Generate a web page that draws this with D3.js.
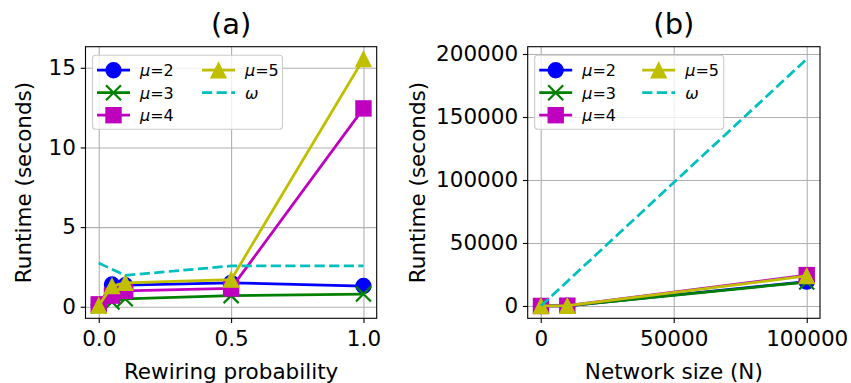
<!DOCTYPE html>
<html>
<head>
<meta charset="utf-8">
<script src="https://cdn.jsdelivr.net/npm/d3@7"></script>
<style>
  body { margin: 0; background: #fff; }
  text { font-family: "DejaVu Sans", sans-serif; fill: #000; }
  .grid line { stroke: #b0b0b0; stroke-width: 1.1; }
  .grid path { display: none; }
</style>
</head>
<body>
<svg id="chart" width="851" height="383"></svg>
<script>
// panel (a): rewiring probability
var rewiring = [0, 0.05, 0.1, 0.5, 1.0];
var mu2A = [0.1, 1.4, 1.35, 1.5, 1.3];
var mu3A = [0.05, 0.3, 0.5, 0.7, 0.8];
var mu4A = [0.15, 0.7, 1.0, 1.15, 12.45];
var mu5A = [0.07, 1.3, 1.5, 1.7, 15.55];
var omegaA = [2.75, 2.35, 1.97, 2.56, 2.56];

// panel (b): network size
var netSize = [100, 10000, 100000];
var mu2B = [5, 150, 19300];
var mu3B = [5, 140, 19000];
var mu4B = [8, 200, 24500];
var mu5B = [8, 210, 23800];
var omegaB = [100, 19500, 196000];

var ticksAX = [0, 0.5, 1.0];
var ticksAY = [0, 5, 10, 15];
var ticksBX = [0, 50000, 100000];
var ticksBY = [0, 50000, 100000, 150000, 200000];

var seriesNames = ['μ=2', 'μ=3', 'μ=4', 'μ=5', 'ω'];
var seriesStyle = [
    {color: '#0000ff', marker: 'circle'},
    {color: '#008000', marker: 'x'},
    {color: '#bf00bf', marker: 'square'},
    {color: '#bfbf00', marker: 'triangle'},
    {color: '#00bfbf', marker: null, dash: '10.2,4.4'}
];

var svg = d3.select('#chart');
var TOP = 46.7, BOTTOM = 318.3;
var MS = 15;
var FONT = 21.5;

function pad(ext) {
    var r = ext[1] - ext[0];
    return [ext[0] - 0.05 * r, ext[1] + 0.05 * r];
}

function drawMarker(g, type, cx, cy, color) {
    var h = MS / 2;
    if (type === 'circle') {
        g.append('circle').attr('cx', cx).attr('cy', cy).attr('r', h)
            .attr('fill', color).attr('stroke', color).attr('stroke-width', 1.4);
    } else if (type === 'square') {
        g.append('rect').attr('x', cx - h).attr('y', cy - h).attr('width', MS).attr('height', MS)
            .attr('fill', color).attr('stroke', color).attr('stroke-width', 1.4);
    } else if (type === 'triangle') {
        g.append('path')
            .attr('d', 'M' + cx + ',' + (cy - h) + 'L' + (cx - h) + ',' + (cy + h) + 'L' + (cx + h) + ',' + (cy + h) + 'Z')
            .attr('fill', color).attr('stroke', color).attr('stroke-width', 1.4).attr('stroke-linejoin', 'miter');
    } else if (type === 'x') {
        g.append('path')
            .attr('d', 'M' + (cx - h) + ',' + (cy - h) + 'L' + (cx + h) + ',' + (cy + h) +
                'M' + (cx - h) + ',' + (cy + h) + 'L' + (cx + h) + ',' + (cy - h))
            .attr('stroke', color).attr('stroke-width', 2.2).attr('fill', 'none');
    }
}

function legendLabel(t, name) {
    // math-style: greek letter italic, rest upright
    t.append('tspan').attr('font-style', 'italic').text(name.charAt(0));
    t.append('tspan').text(name.slice(1));
}

function drawPanel(opt) {
    var x = d3.scaleLinear().domain(pad(d3.extent(opt.xs))).range([opt.left, opt.right]);
    var allY = d3.merge(opt.series);
    var y = d3.scaleLinear().domain(pad([d3.min(allY), d3.max(allY)])).range([BOTTOM, TOP]);
    var g = svg.append('g');

    // grid
    g.append('g').attr('class', 'grid').attr('transform', 'translate(0,' + BOTTOM + ')')
        .call(d3.axisBottom(x).tickValues(opt.ticksX).tickSize(-(BOTTOM - TOP)).tickFormat(''));
    g.append('g').attr('class', 'grid').attr('transform', 'translate(' + opt.left + ',0)')
        .call(d3.axisLeft(y).tickValues(opt.ticksY).tickSize(-(opt.right - opt.left)).tickFormat(''));

    // lines + markers
    var clip = 'clip' + opt.id;
    g.append('clipPath').attr('id', clip).append('rect')
        .attr('x', opt.left).attr('y', TOP).attr('width', opt.right - opt.left).attr('height', BOTTOM - TOP);
    var plot = g.append('g').attr('clip-path', 'url(#' + clip + ')');
    opt.series.forEach(function(vals, i) {
        var st = seriesStyle[i];
        var pts = opt.xs.map(function(xv, j) { return [x(xv), y(vals[j])]; });
        plot.append('path').attr('d', d3.line()(pts))
            .attr('fill', 'none').attr('stroke', st.color).attr('stroke-width', 2.75)
            .attr('stroke-dasharray', st.dash || null).attr('stroke-linejoin', 'round');
        if (st.marker) {
            pts.forEach(function(p) { drawMarker(plot, st.marker, p[0], p[1], st.color); });
        }
    });

    // frame
    g.append('rect').attr('x', opt.left).attr('y', TOP)
        .attr('width', opt.right - opt.left).attr('height', BOTTOM - TOP)
        .attr('fill', 'none').attr('stroke', '#000').attr('stroke-width', 1.1);

    // axes
    var ax = g.append('g').attr('transform', 'translate(0,' + BOTTOM + ')')
        .call(d3.axisBottom(x).tickValues(opt.ticksX).tickSize(4.8).tickPadding(4.8).tickFormat(opt.fmtX));
    var ay = g.append('g').attr('transform', 'translate(' + opt.left + ',0)')
        .call(d3.axisLeft(y).tickValues(opt.ticksY).tickSize(4.8).tickPadding(4.8).tickFormat(d3.format('d')));
    [ax, ay].forEach(function(a) {
        a.select('.domain').remove();
        a.selectAll('line').attr('stroke', '#000').attr('stroke-width', 1.1);
        a.selectAll('text').attr('font-size', FONT + 'px').attr('font-family', '"DejaVu Sans", sans-serif').attr('fill', '#000');
    });
    ax.selectAll('text').attr('y', 28).attr('dy', null);

    // titles and labels
    var cx = (opt.left + opt.right) / 2;
    g.append('text').attr('x', cx).attr('y', 34).attr('text-anchor', 'middle')
        .attr('font-size', '29px').text(opt.title);
    g.append('text').attr('x', cx).attr('y', 379).attr('text-anchor', 'middle')
        .attr('font-size', FONT + 'px').text(opt.xlabel);
    g.append('text').attr('transform', 'translate(' + opt.ylabelX + ',' + ((TOP + BOTTOM) / 2) + ') rotate(-90)')
        .attr('text-anchor', 'middle').attr('font-size', FONT + 'px').text('Runtime (seconds)');

    // legend
    var lx = opt.left + 7, ly = TOP + 8.5;
    var lg = g.append('g');
    lg.append('rect').attr('x', lx).attr('y', ly).attr('width', opt.legendW).attr('height', 74)
        .attr('rx', 3).attr('fill', '#fff').attr('fill-opacity', 0.8)
        .attr('stroke', '#cccccc').attr('stroke-width', 1.1);
    seriesNames.forEach(function(name, i) {
        var col = i < 3 ? 0 : 1, row = i < 3 ? i : i - 3;
        var hx = lx + 4.5 + col * opt.legendCol, hy = ly + 15 + row * 22.5;
        var st = seriesStyle[i];
        lg.append('line').attr('x1', hx).attr('x2', hx + 33).attr('y1', hy).attr('y2', hy)
            .attr('stroke', st.color).attr('stroke-width', 2.75).attr('stroke-dasharray', st.dash || null);
        if (st.marker) drawMarker(lg, st.marker, hx + 16.5, hy, st.color);
        var t = lg.append('text').attr('x', hx + 43).attr('y', hy + 6).attr('font-size', '16px');
        legendLabel(t, name);
    });
}

drawPanel({
    id: 'a', left: 85.5, right: 376.7, xs: rewiring,
    series: [mu2A, mu3A, mu4A, mu5A, omegaA],
    ticksX: ticksAX, ticksY: ticksAY, fmtX: d3.format('.1f'),
    title: '(a)', xlabel: 'Rewiring probability', ylabelX: 31,
    legendW: 190, legendCol: 105
});

drawPanel({
    id: 'b', left: 527.7, right: 820, xs: netSize,
    series: [mu2B, mu3B, mu4B, mu5B, omegaB],
    ticksX: ticksBX, ticksY: ticksBY, fmtX: d3.format('d'),
    title: '(b)', xlabel: 'Network size (N)', ylabelX: 425,
    legendW: 189, legendCol: 103
});
</script>
</body>
</html>
